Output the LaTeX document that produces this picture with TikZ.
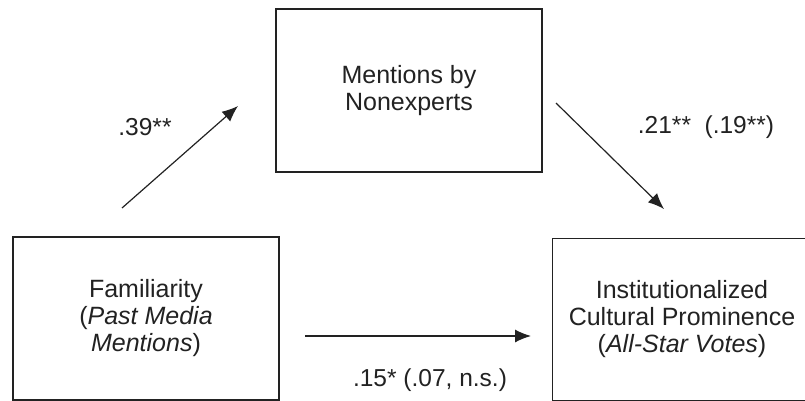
\documentclass[tikz,border=0pt]{standalone}
\usepackage{fontspec}
\setmainfont{Liberation Sans}
\usetikzlibrary{arrows.meta}
\definecolor{ink}{HTML}{222222}
\tikzset{
  boxline/.style={draw=ink, line width=1.3pt},
  box/.style={boxline, inner sep=0pt, align=center, text=ink,
    font=\fontsize{25}{27}\selectfont},
  link/.style={draw=ink, line width=1.2pt, -{Latex[length=16pt,width=13pt]}},
  coef/.style={text=ink, font=\fontsize{24.5}{27}\selectfont, inner sep=0pt}
}
\begin{document}
\begin{tikzpicture}[x=1pt,y=-1pt]
\useasboundingbox (0,0) rectangle (805,401);
\clip (0,0) rectangle (805,401);
\node[box, minimum width=266pt, minimum height=163pt] (fam) at (146,318.5)
  {Familiarity\\(\textit{Past Media}\\\textit{Mentions})};
\node[box, minimum width=266pt, minimum height=163pt] (men) at (409,90.5)
  {Mentions by\\Nonexperts};
\node[box, draw=none, minimum width=258pt, minimum height=161pt] (icp) at (682,319.5)
  {Institutionalized\\Cultural Prominence\\(\textit{All-Star Votes})};
\draw[boxline] ([xshift=60pt]icp.north east) -- (icp.north west) -- (icp.south west) -- ([xshift=60pt]icp.south east);
\coordinate (a1s) at (122,208);
\coordinate (a1e) at (238,106);
\coordinate (a2s) at (556,103);
\coordinate (a2e) at (664,209);
\coordinate (a3s) at (305,336);
\coordinate (a3e) at (531,336);
\draw[link] (a1s) -- (a1e);
\draw[link] (a2s) -- (a2e);
\draw[link] (a3s) -- (a3e);
\node[coef] (l1) at (145,127) {.39**};
\node[coef] (l2) at (706,127) {.21**~~(.19**)};
\node[coef] (l3) at (430,380) {.15* (.07, n.s.)};
\end{tikzpicture}
\end{document}
